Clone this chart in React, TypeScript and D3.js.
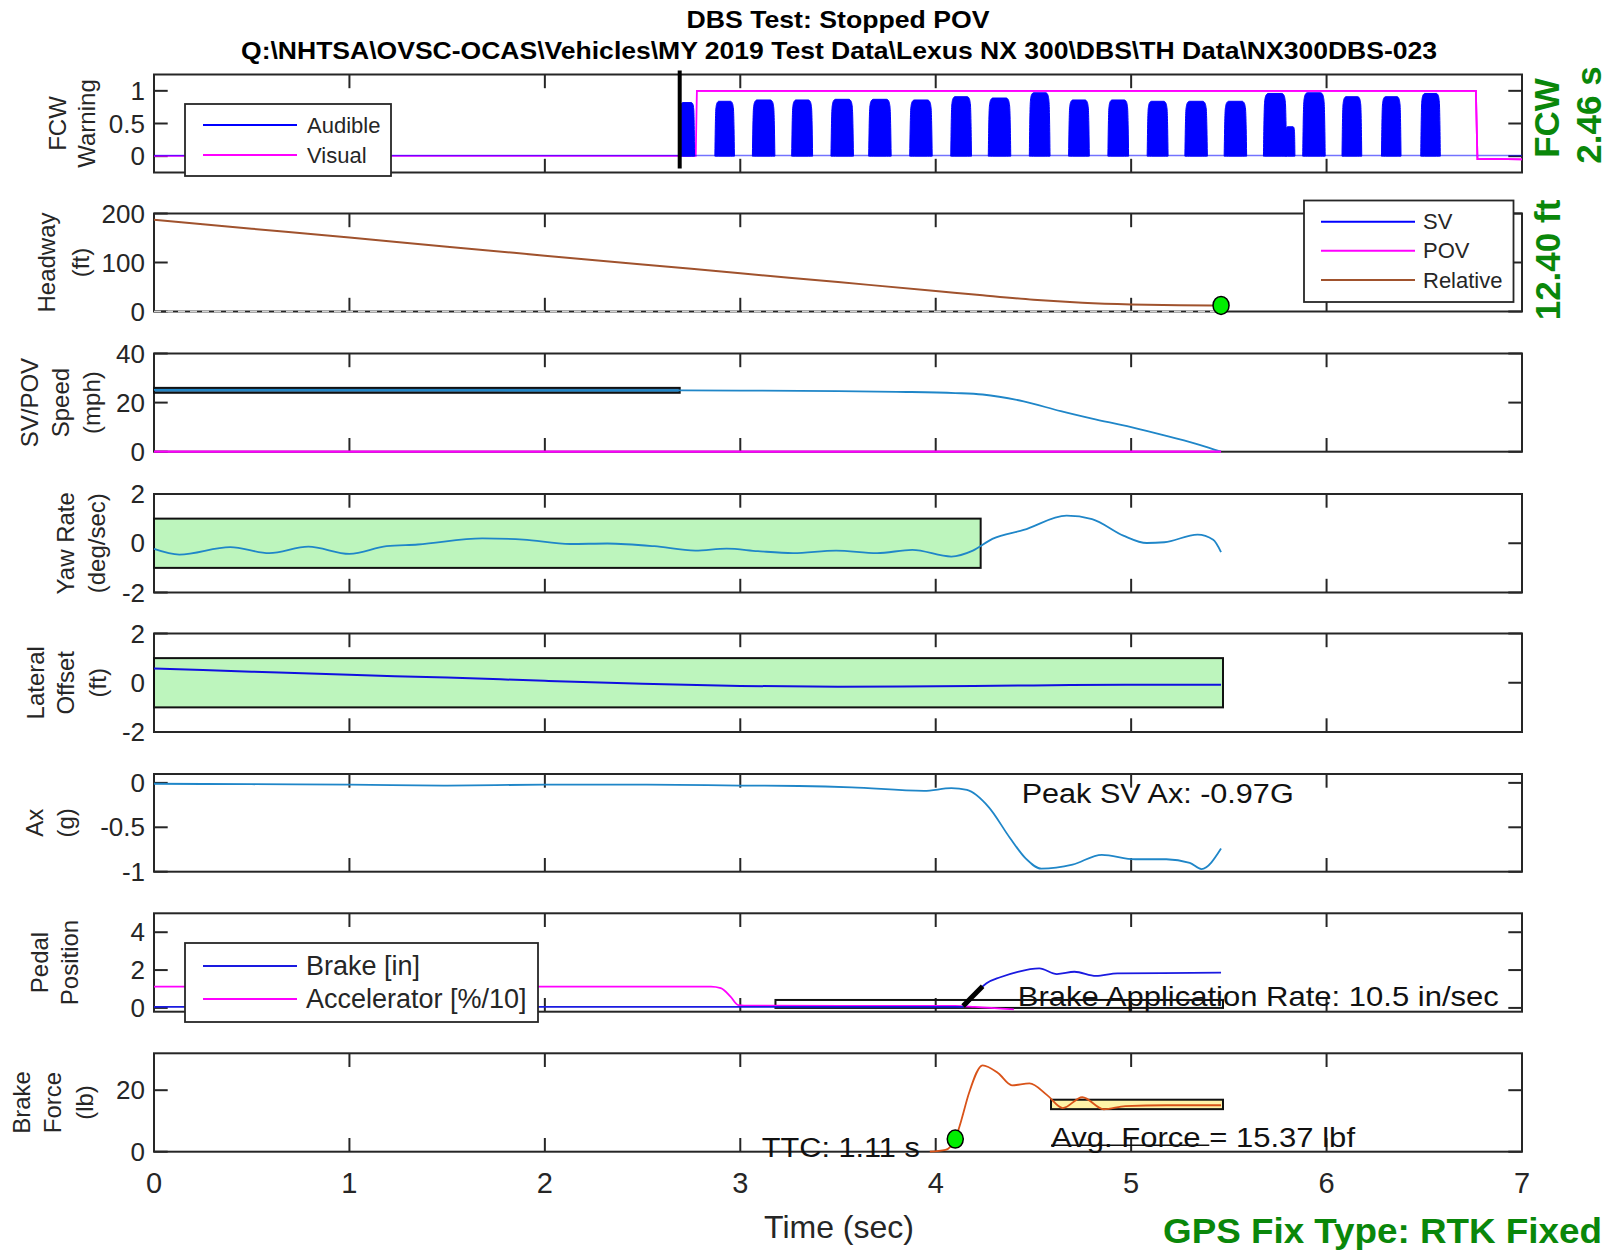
import React from "react";
import * as d3 from "d3";

// ---------- data ----------
const timeTicks = [0, 1, 2, 3, 4, 5, 6, 7];

// FCW warning
const fcwOnsetTime = 2.69;
const audibleStart = [2.689, 2.87, 3.062, 3.263, 3.464, 3.657, 3.867, 4.077, 4.269, 4.479, 4.68, 4.881, 5.082, 5.275, 5.476, 5.677, 5.79, 5.878, 6.079, 6.281, 6.482];
const audibleEnd = [2.766, 2.97, 3.177, 3.37, 3.579, 3.772, 3.982, 4.183, 4.384, 4.585, 4.786, 4.987, 5.189, 5.39, 5.591, 5.795, 5.838, 5.993, 6.18, 6.381, 6.582];
const audiblePeak = [0.82, 0.84, 0.86, 0.86, 0.87, 0.87, 0.86, 0.91, 0.89, 0.97, 0.86, 0.86, 0.84, 0.84, 0.84, 0.96, 0.45, 0.97, 0.91, 0.91, 0.96];
const audibleBaseT = [0, 7];
const audibleBaseV = [0.01, 0.01];
const visualT = [0, 2.772, 2.778, 6.764, 6.772, 6.85, 7.0];
const visualV = [0.005, 0.005, 1.0, 1.0, -0.045, -0.04, -0.05];

// Headway
const headwayT = [0, 0.5, 1, 1.5, 2, 2.5, 3, 3.5, 4, 4.24, 4.5, 4.75, 5, 5.25, 5.46];
const headwayFt = [187, 169, 151, 132, 114, 96, 78, 60, 42, 33, 24, 18, 14.5, 12.8, 12.4];
const minHeadwayT = 5.46;
const minHeadwayFt = 12.4;

// Speed
const svSpeedT = [0, 0.5, 1, 1.5, 2, 2.5, 3, 3.5, 3.8, 4.1, 4.24, 4.45, 4.64, 4.8, 5, 5.2, 5.35, 5.46];
const svSpeedMph = [25.2, 25.2, 25.1, 25.1, 25.0, 25.0, 24.9, 24.7, 24.4, 23.9, 23.3, 20.5, 16.5, 13.5, 10, 6, 2.8, 0];
const povSpeedT = [0, 5.46];
const povSpeedMph = [0, 0];
const speedBandT = [0, 2.69];
const speedBandMph = [24, 26];

// Yaw rate
const yawT = [0, 0.13, 0.39, 0.59, 0.79, 1.0, 1.19, 1.35, 1.68, 1.89, 2.13, 2.32, 2.56, 2.77, 2.93, 3.09, 3.27, 3.49, 3.7, 3.88, 4.08, 4.19, 4.29, 4.45, 4.67, 4.8, 4.96, 5.08, 5.17, 5.34, 5.42, 5.46];
const yawDps = [-0.23, -0.46, -0.16, -0.4, -0.14, -0.43, -0.12, -0.05, 0.2, 0.15, -0.03, -0.01, -0.12, -0.3, -0.22, -0.32, -0.4, -0.3, -0.4, -0.27, -0.54, -0.3, 0.18, 0.54, 1.12, 0.98, 0.31, 0.01, 0.04, 0.35, 0.14, -0.36];
const yawBandT = [0, 4.23];
const yawBandDps = [-1, 1];

// Lateral offset
const latT = [0, 0.5, 1, 1.5, 2, 2.5, 3, 3.5, 4, 4.5, 5, 5.46];
const latFt = [0.58, 0.45, 0.32, 0.21, 0.08, -0.04, -0.13, -0.16, -0.14, -0.11, -0.08, -0.08];
const latBandT = [0, 5.47];
const latBandFt = [-1, 1];

// Longitudinal acceleration
const axT = [0, 0.5, 1, 1.5, 2, 2.5, 3, 3.3, 3.57, 3.94, 4.08, 4.16, 4.27, 4.38, 4.46, 4.54, 4.7, 4.85, 5.02, 5.18, 5.3, 5.36, 5.46];
const axG = [-0.01, -0.015, -0.02, -0.03, -0.02, -0.02, -0.03, -0.035, -0.05, -0.09, -0.06, -0.08, -0.27, -0.62, -0.85, -0.965, -0.92, -0.81, -0.86, -0.86, -0.9, -0.97, -0.74];
const peakAx = -0.97;

// Pedals
const brakeT = [0, 4.12, 4.15, 4.19, 4.26, 4.33, 4.42, 4.53, 4.62, 4.71, 4.82, 4.93, 5.16, 5.46];
const brakeIn = [0.05, 0.05, 0.1, 0.59, 1.3, 1.62, 1.91, 2.09, 1.79, 1.91, 1.69, 1.83, 1.84, 1.86];
const accelT = [0, 2.85, 2.9, 2.95, 2.99, 3.05, 4.1, 4.2, 4.4];
const accelPct10 = [1.13, 1.13, 1.05, 0.6, 0.15, 0.12, 0.1, 0.05, -0.08];
const brakeRate = 10.5;
const brakeRateStartT = 4.14;
const brakeRateStartIn = 0.1;
const brakeRateDuration = 0.1;
const brakeWindowT = [3.18, 5.47];
const brakeWindowIn = [0, 0.42];

// Brake force
const forceT = [3.97, 4.05, 4.1, 4.13, 4.17, 4.24, 4.32, 4.39, 4.48, 4.57, 4.65, 4.75, 4.86, 4.97, 5.18, 5.46];
const forceLb = [0, 0.6, 4.1, 10, 19, 28.1, 25.5, 21.6, 22.2, 18.4, 14.2, 17.7, 13.8, 14.8, 15.1, 15.1];
const brakeOnsetT = 4.1;
const brakeOnsetLb = 4.1;
const avgForce = 15.37;
const avgWindowT = [4.59, 5.47];
const avgRefLineT = [4.59, 5.4];
const avgRefLineLb = 2.1;
const ttcSec = 1.11;
const fcwSec = 2.46;

// ---------- layout ----------
const FONT = "'Liberation Sans', Arial, Helvetica, sans-serif";
const AXIS = "#262626";
const SV_BLUE = "#1f86c8";
const TICK = 13.7;

const x = d3.scaleLinear().domain([0, 7]).range([154, 1522]);

type PanelSpec = {
  key: string;
  top: number;
  bottom: number;
  domain: [number, number];
  ticks: number[];
  tickLabels: string[];
  label: string[];
  labelX: number[];
};

const panels: PanelSpec[] = [
  { key: "fcw", top: 74.5, bottom: 172.5, domain: [-0.25, 1.25], ticks: [0, 0.5, 1], tickLabels: ["0", "0.5", "1"], label: ["FCW", "Warning"], labelX: [57, 86] },
  { key: "hw", top: 213.5, bottom: 311.5, domain: [0, 200], ticks: [0, 100, 200], tickLabels: ["0", "100", "200"], label: ["Headway", "(ft)"], labelX: [46, 80] },
  { key: "spd", top: 353.5, bottom: 451.7, domain: [0, 40], ticks: [0, 20, 40], tickLabels: ["0", "20", "40"], label: ["SV/POV", "Speed", "(mph)"], labelX: [29, 60, 91] },
  { key: "yaw", top: 494, bottom: 592.5, domain: [-2, 2], ticks: [-2, 0, 2], tickLabels: ["-2", "0", "2"], label: ["Yaw Rate", "(deg/sec)"], labelX: [65, 96] },
  { key: "lat", top: 633.5, bottom: 732, domain: [-2, 2], ticks: [-2, 0, 2], tickLabels: ["-2", "0", "2"], label: ["Lateral", "Offset", "(ft)"], labelX: [35, 65, 97] },
  { key: "ax", top: 774, bottom: 871.7, domain: [-1, 0.1], ticks: [-1, -0.5, 0], tickLabels: ["-1", "-0.5", "0"], label: ["Ax", "(g)"], labelX: [34, 65] },
  { key: "ped", top: 913.3, bottom: 1011.7, domain: [-0.2, 5], ticks: [0, 2, 4], tickLabels: ["0", "2", "4"], label: ["Pedal", "Position"], labelX: [39, 69] },
  { key: "bf", top: 1053.3, bottom: 1151.7, domain: [0, 32], ticks: [0, 20], tickLabels: ["0", "20"], label: ["Brake", "Force", "(lb)"], labelX: [21, 52, 84] },
];

const yScales: Record<string, d3.ScaleLinear<number, number>> = {};
panels.forEach((p) => {
  yScales[p.key] = d3.scaleLinear().domain(p.domain).range([p.bottom, p.top]);
});

function linePath(ts: number[], vs: number[], ys: d3.ScaleLinear<number, number>, curve = d3.curveMonotoneX) {
  const pts = ts.map((t, i) => [t, vs[i]] as [number, number]);
  return d3
    .line<[number, number]>()
    .x((d) => x(d[0]))
    .y((d) => ys(d[1]))
    .curve(curve)(pts) as string;
}

// A single audible burst drawn as its filled envelope (steep sides, rounded shoulders)
const pulseFrac = [0, 0.02, 0.05, 0.11, 0.2];
const pulseLevel = [0, 0.5, 0.86, 0.97, 1];
function pulsePath(s: number, e: number, p: number, ys: d3.ScaleLinear<number, number>) {
  const w = e - s;
  const left = pulseFrac.map((f, i) => [s + f * w, pulseLevel[i] * p] as [number, number]);
  const right = pulseFrac
    .slice()
    .reverse()
    .map((f, i) => [e - f * w, pulseLevel[pulseLevel.length - 1 - i] * p] as [number, number]);
  const pts = [...left, ...right];
  return d3
    .area<[number, number]>()
    .x((d) => x(d[0]))
    .y0(ys(0))
    .y1((d) => ys(d[1]))
    .curve(d3.curveMonotoneX)(pts) as string;
}

function Frame({ p, showXLabels }: { p: PanelSpec; showXLabels: boolean }) {
  const ys = yScales[p.key];
  const x0 = x(0);
  const x1 = x(7);
  const mid = (p.top + p.bottom) / 2;
  return (
    <g>
      <rect x={x0} y={p.top} width={x1 - x0} height={p.bottom - p.top} fill="#ffffff" />
      {timeTicks.map((t) => (
        <g key={"xt" + t}>
          <line x1={x(t)} x2={x(t)} y1={p.top} y2={p.top + TICK} stroke={AXIS} strokeWidth={2} />
          <line x1={x(t)} x2={x(t)} y1={p.bottom} y2={p.bottom - TICK} stroke={AXIS} strokeWidth={2} />
        </g>
      ))}
      {p.ticks.map((v, i) => (
        <g key={"yt" + v}>
          <line x1={x0} x2={x0 + TICK} y1={ys(v)} y2={ys(v)} stroke={AXIS} strokeWidth={2} />
          <line x1={x1} x2={x1 - TICK} y1={ys(v)} y2={ys(v)} stroke={AXIS} strokeWidth={2} />
          <text x={145} y={ys(v)} textAnchor="end" dominantBaseline="central" fontSize={26} fill={AXIS} fontFamily={FONT}>
            {p.tickLabels[i]}
          </text>
        </g>
      ))}
      <rect x={x0} y={p.top} width={x1 - x0} height={p.bottom - p.top} fill="none" stroke={AXIS} strokeWidth={2} />
      {p.label.map((s, i) => (
        <text
          key={s}
          transform={`translate(${p.labelX[i]},${mid}) rotate(-90)`}
          textAnchor="middle"
          dominantBaseline="central"
          fontSize={24}
          fill={AXIS}
          fontFamily={FONT}
        >
          {s}
        </text>
      ))}
      {showXLabels &&
        timeTicks.map((t) => (
          <text key={"xl" + t} x={x(t)} y={p.bottom + 31} textAnchor="middle" dominantBaseline="central" fontSize={29} fill={AXIS} fontFamily={FONT}>
            {t}
          </text>
        ))}
      <clipPath id={"clip-" + p.key}>
        <rect x={x0 - 2} y={p.top - 2} width={x1 - x0 + 4} height={p.bottom - p.top + 4} />
      </clipPath>
    </g>
  );
}

function Legend({ x0, y0, w, h, items, fontSize, lineX, textX }: { x0: number; y0: number; w: number; h: number; items: { label: string; color: string; y: number }[]; fontSize: number; lineX: [number, number]; textX: number }) {
  return (
    <g>
      <rect x={x0} y={y0} width={w} height={h} fill="#ffffff" stroke={AXIS} strokeWidth={1.8} />
      {items.map((it) => (
        <g key={it.label}>
          <line x1={lineX[0]} x2={lineX[1]} y1={it.y} y2={it.y} stroke={it.color} strokeWidth={2} />
          <text x={textX} y={it.y} dominantBaseline="central" fontSize={fontSize} fill={AXIS} fontFamily={FONT}>
            {it.label}
          </text>
        </g>
      ))}
    </g>
  );
}

export default function App() {
  const yF = yScales.fcw;
  const yH = yScales.hw;
  const yS = yScales.spd;
  const yY = yScales.yaw;
  const yL = yScales.lat;
  const yA = yScales.ax;
  const yP = yScales.ped;
  const yB = yScales.bf;

  const rateEndT = brakeRateStartT + brakeRateDuration;
  const rateEndIn = brakeRateStartIn + brakeRate * brakeRateDuration;

  return (
    <svg width={1621} height={1253} viewBox="0 0 1621 1253" style={{ position: "absolute", left: 0, top: 0, background: "#fff" }} fontFamily={FONT}>
      <rect x={0} y={0} width={1621} height={1253} fill="#ffffff" />

      {/* title */}
      <text x={838} y={19} textAnchor="middle" dominantBaseline="central" fontSize={24} fontWeight="bold" fill="#000" textLength={303} lengthAdjust="spacingAndGlyphs">
        DBS Test: Stopped POV
      </text>
      <text x={839} y={50} textAnchor="middle" dominantBaseline="central" fontSize={24} fontWeight="bold" fill="#000" textLength={1196} lengthAdjust="spacingAndGlyphs">
        {"Q:\\NHTSA\\OVSC-OCAS\\Vehicles\\MY 2019 Test Data\\Lexus NX 300\\DBS\\TH Data\\NX300DBS-023"}
      </text>

      {panels.map((p, i) => (
        <Frame key={p.key} p={p} showXLabels={i === panels.length - 1} />
      ))}

      {/* FCW warning */}
      <g clipPath="url(#clip-fcw)">
        <path d={linePath(visualT, visualV, yF, d3.curveLinear)} fill="none" stroke="#ff00ff" strokeWidth={1.8} />
        <path d={linePath(audibleBaseT, audibleBaseV, yF, d3.curveLinear)} fill="none" stroke="#0000ff" strokeWidth={1.6} opacity={0.55} />
        {audibleStart.map((s, i) => (
          <path key={"pl" + i} d={pulsePath(s, audibleEnd[i], audiblePeak[i], yF)} fill="#0000ff" stroke="#0000ff" strokeWidth={1} />
        ))}
        <path
          d={linePath(visualT.slice(2), visualV.slice(2), yF, d3.curveLinear)}
          fill="none"
          stroke="#ff00ff"
          strokeWidth={1.8}
        />
      </g>
      <line x1={x(fcwOnsetTime)} x2={x(fcwOnsetTime)} y1={panels[0].top - 4} y2={panels[0].bottom - 4} stroke="#000" strokeWidth={4} />
      <Legend
        x0={185}
        y0={104}
        w={206}
        h={72}
        fontSize={22}
        lineX={[203, 297]}
        textX={307}
        items={[
          { label: "Audible", color: "#0000ff", y: 125 },
          { label: "Visual", color: "#ff00ff", y: 155 },
        ]}
      />

      {/* Headway */}
      <g clipPath="url(#clip-hw)">
        <path d={linePath(headwayT, headwayFt, yH)} fill="none" stroke="#a0522d" strokeWidth={2} />
      </g>
      <line x1={x(0)} x2={x(minHeadwayT)} y1={yH(0)} y2={yH(0)} stroke="#ffffff" strokeWidth={1.4} strokeDasharray="7 5" opacity={0.8} />
      <ellipse cx={x(minHeadwayT)} cy={yH(minHeadwayFt)} rx={8} ry={9} fill="#00ee00" stroke="#000" strokeWidth={1.5} />
      <Legend
        x0={1304}
        y0={200.5}
        w={209.5}
        h={101.5}
        fontSize={22}
        lineX={[1321, 1415]}
        textX={1423}
        items={[
          { label: "SV", color: "#0000ff", y: 221.7 },
          { label: "POV", color: "#ff00ff", y: 250.7 },
          { label: "Relative", color: "#a0522d", y: 280 },
        ]}
      />

      {/* Speed */}
      <g clipPath="url(#clip-spd)">
        <rect
          x={x(speedBandT[0])}
          y={yS(speedBandMph[1])}
          width={x(speedBandT[1]) - x(speedBandT[0])}
          height={yS(speedBandMph[0]) - yS(speedBandMph[1])}
          fill="#3f7fae"
          stroke="#111"
          strokeWidth={2}
        />
        <path d={linePath(svSpeedT, svSpeedMph, yS)} fill="none" stroke={SV_BLUE} strokeWidth={1.8} />
        <path d={linePath(povSpeedT, povSpeedMph, yS, d3.curveLinear)} fill="none" stroke="#ff00ff" strokeWidth={2.2} />
      </g>

      {/* Yaw rate */}
      <g clipPath="url(#clip-yaw)">
        <rect
          x={x(yawBandT[0])}
          y={yY(yawBandDps[1])}
          width={x(yawBandT[1]) - x(yawBandT[0])}
          height={yY(yawBandDps[0]) - yY(yawBandDps[1])}
          fill="#bdf5bd"
          stroke="#111"
          strokeWidth={2}
        />
        <path d={linePath(yawT, yawDps, yY)} fill="none" stroke={SV_BLUE} strokeWidth={1.8} />
      </g>

      {/* Lateral offset */}
      <g clipPath="url(#clip-lat)">
        <rect
          x={x(latBandT[0])}
          y={yL(latBandFt[1])}
          width={x(latBandT[1]) - x(latBandT[0])}
          height={yL(latBandFt[0]) - yL(latBandFt[1])}
          fill="#bdf5bd"
          stroke="#111"
          strokeWidth={2}
        />
        <path d={linePath(latT, latFt, yL)} fill="none" stroke="#1010e0" strokeWidth={2} />
      </g>

      {/* Ax */}
      <g clipPath="url(#clip-ax)">
        <path d={linePath(axT, axG, yA)} fill="none" stroke={SV_BLUE} strokeWidth={1.8} />
      </g>
      <text x={x(4.44)} y={yA(-0.12)} dominantBaseline="central" fontSize={27} fill="#111" textLength={272} lengthAdjust="spacingAndGlyphs">
        {`Peak SV Ax: ${peakAx.toFixed(2)}G`}
      </text>

      {/* Pedal position */}
      <g clipPath="url(#clip-ped)">
        <rect
          x={x(brakeWindowT[0])}
          y={yP(brakeWindowIn[1])}
          width={x(brakeWindowT[1]) - x(brakeWindowT[0])}
          height={yP(brakeWindowIn[0]) - yP(brakeWindowIn[1])}
          fill="none"
          stroke="#111"
          strokeWidth={2}
        />
        <path d={linePath(accelT, accelPct10, yP)} fill="none" stroke="#ff00ff" strokeWidth={1.8} />
        <path d={linePath(brakeT, brakeIn, yP)} fill="none" stroke="#1a1ae0" strokeWidth={1.8} />
        <line x1={x(brakeRateStartT)} x2={x(rateEndT)} y1={yP(brakeRateStartIn)} y2={yP(rateEndIn)} stroke="#000" strokeWidth={5} />
      </g>
      <text x={x(4.42)} y={yP(0.62)} dominantBaseline="central" fontSize={28} fill="#111" textLength={481} lengthAdjust="spacingAndGlyphs">
        {`Brake Application Rate: ${brakeRate.toFixed(1)} in/sec`}
      </text>
      <Legend
        x0={185}
        y0={943}
        w={353}
        h={79}
        fontSize={27}
        lineX={[203, 297]}
        textX={306}
        items={[
          { label: "Brake [in]", color: "#1a1ae0", y: 966 },
          { label: "Accelerator [%/10]", color: "#ff00ff", y: 999 },
        ]}
      />

      {/* Brake force */}
      <g clipPath="url(#clip-bf)">
        <rect
          x={x(avgWindowT[0])}
          y={yB(avgForce * 1.1)}
          width={x(avgWindowT[1]) - x(avgWindowT[0])}
          height={yB(avgForce * 0.9) - yB(avgForce * 1.1)}
          fill="#fff3a8"
          stroke="#111"
          strokeWidth={2}
        />
        <path d={linePath(forceT, forceLb, yB)} fill="none" stroke="#d95319" strokeWidth={1.8} />
        <line x1={x(avgRefLineT[0])} x2={x(avgRefLineT[1])} y1={yB(avgRefLineLb)} y2={yB(avgRefLineLb)} stroke="#111" strokeWidth={1.5} />
      </g>
      <ellipse cx={x(brakeOnsetT)} cy={yB(brakeOnsetLb)} rx={8} ry={9} fill="#00ee00" stroke="#000" strokeWidth={1.5} />
      <text x={x(3.11)} y={yB(1.2)} dominantBaseline="central" fontSize={27} fill="#111" textLength={158} lengthAdjust="spacingAndGlyphs">
        {`TTC: ${ttcSec.toFixed(2)} s`}
      </text>
      <text x={x(4.59)} y={yB(4.4)} dominantBaseline="central" fontSize={27} fill="#111" textLength={304} lengthAdjust="spacingAndGlyphs">
        {`Avg. Force = ${avgForce.toFixed(2)} lbf`}
      </text>

      {/* axis title */}
      <text x={839} y={1227} textAnchor="middle" dominantBaseline="central" fontSize={32} fill={AXIS}>
        Time (sec)
      </text>

      {/* side notes */}
      <text transform="translate(1546,118) rotate(-90)" textAnchor="middle" dominantBaseline="central" fontSize={35} fontWeight="bold" fill="#0a870a">
        FCW
      </text>
      <text transform="translate(1588,115) rotate(-90)" textAnchor="middle" dominantBaseline="central" fontSize={35} fontWeight="bold" fill="#0a870a">
        {`${fcwSec.toFixed(2)} s`}
      </text>
      <text transform="translate(1547,260) rotate(-90)" textAnchor="middle" dominantBaseline="central" fontSize={35} fontWeight="bold" fill="#0a870a">
        {`${minHeadwayFt.toFixed(2)} ft`}
      </text>
      <text x={1602} y={1230} textAnchor="end" dominantBaseline="central" fontSize={35} fontWeight="bold" fill="#0a870a" textLength={439} lengthAdjust="spacingAndGlyphs">
        GPS Fix Type: RTK Fixed
      </text>
    </svg>
  );
}
